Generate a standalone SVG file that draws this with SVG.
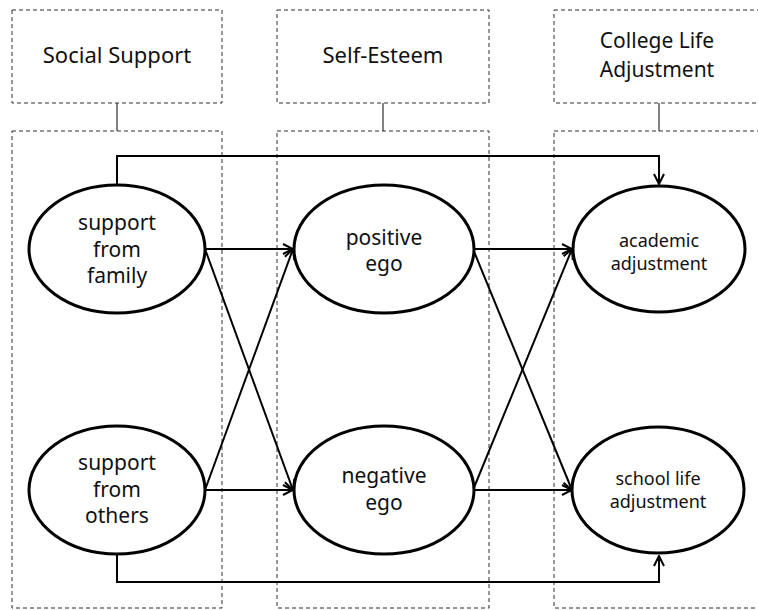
<svg xmlns="http://www.w3.org/2000/svg" width="758" height="610" viewBox="0 0 758 610">
  <style>
    .frame { fill: none; stroke: #2e2e2e; stroke-width: 1; stroke-dasharray: 4 3; }
    .tie { fill: none; stroke: #2e2e2e; stroke-width: 1.2; }
    .node { fill: #ffffff; stroke: #000000; stroke-width: 3; }
    .link { fill: none; stroke: #000000; stroke-width: 2; }
    .head { font-family: "Noto Sans", "Open Sans", sans-serif; font-size: 22px; fill: #111111; text-anchor: middle; }
    .head-2 { font-family: "Noto Sans", "Open Sans", sans-serif; font-size: 21px; fill: #111111; text-anchor: middle; }
    .lbl { font-family: "Noto Sans", "Open Sans", sans-serif; font-size: 21px; fill: #111111; text-anchor: middle; }
    .lbl-s { font-family: "Noto Sans", "Open Sans", sans-serif; font-size: 18px; fill: #111111; text-anchor: middle; }
  </style>
  <defs>
    <marker id="arrow" viewBox="0 0 12 12" refX="11" refY="6" markerWidth="12" markerHeight="12" markerUnits="userSpaceOnUse" orient="auto">
      <path d="M1,1 L11,6 L1,11" fill="none" stroke="#000000" stroke-width="2"/>
    </marker>
  </defs>
  <rect width="758" height="610" fill="#ffffff"/>

  <!-- column headers and frames -->
  <g id="col-social">
    <rect class="frame" x="12" y="10" width="210" height="93"/>
    <text class="head" x="117" y="63">Social Support</text>
    <line class="tie" x1="117" y1="103" x2="117" y2="131"/>
    <rect class="frame" x="12" y="131" width="210" height="477"/>
  </g>
  <g id="col-esteem">
    <rect class="frame" x="277" y="10" width="212" height="93"/>
    <text class="head" x="383" y="63">Self-Esteem</text>
    <line class="tie" x1="383" y1="103" x2="383" y2="131"/>
    <rect class="frame" x="277" y="131" width="212" height="477"/>
  </g>
  <g id="col-college">
    <rect class="frame" x="554" y="10" width="212" height="93"/>
    <text class="head-2" x="657" y="48">College Life</text>
    <text class="head-2" x="657" y="77">Adjustment</text>
    <line class="tie" x1="659" y1="103" x2="659" y2="131"/>
    <rect class="frame" x="554" y="131" width="212" height="477"/>
  </g>

  <!-- connectors -->
  <g id="connectors">
    <path class="link" d="M117,185 V156 H659 V184" marker-end="url(#arrow)"/>
    <path class="link" d="M117,555 V582 H659 V556" marker-end="url(#arrow)"/>
    <line class="link" x1="205" y1="249" x2="293" y2="249" marker-end="url(#arrow)"/>
    <line class="link" x1="205" y1="249" x2="293" y2="490" marker-end="url(#arrow)"/>
    <line class="link" x1="205" y1="490" x2="293" y2="249" marker-end="url(#arrow)"/>
    <line class="link" x1="205" y1="490" x2="293" y2="490" marker-end="url(#arrow)"/>
    <line class="link" x1="473" y1="249" x2="572" y2="249" marker-end="url(#arrow)"/>
    <line class="link" x1="473" y1="249" x2="572" y2="490" marker-end="url(#arrow)"/>
    <line class="link" x1="473" y1="490" x2="572" y2="249" marker-end="url(#arrow)"/>
    <line class="link" x1="473" y1="490" x2="572" y2="490" marker-end="url(#arrow)"/>
  </g>

  <!-- nodes -->
  <g id="family">
    <ellipse class="node" cx="117" cy="249" rx="88" ry="64"/>
    <text class="lbl" x="117" y="230">support</text>
    <text class="lbl" x="117" y="257">from</text>
    <text class="lbl" x="117" y="283">family</text>
  </g>
  <g id="others">
    <ellipse class="node" cx="117" cy="490" rx="88" ry="64"/>
    <text class="lbl" x="117" y="470">support</text>
    <text class="lbl" x="117" y="497">from</text>
    <text class="lbl" x="117" y="523">others</text>
  </g>
  <g id="positive">
    <ellipse class="node" cx="384" cy="249" rx="90" ry="64"/>
    <text class="lbl" x="384" y="245">positive</text>
    <text class="lbl" x="384" y="271">ego</text>
  </g>
  <g id="negative">
    <ellipse class="node" cx="384" cy="490" rx="90" ry="64"/>
    <text class="lbl" x="384" y="483">negative</text>
    <text class="lbl" x="384" y="510">ego</text>
  </g>
  <g id="academic">
    <ellipse class="node" cx="659" cy="249" rx="86" ry="63"/>
    <text class="lbl-s" x="659" y="247">academic</text>
    <text class="lbl-s" x="659" y="270">adjustment</text>
  </g>
  <g id="school">
    <ellipse class="node" cx="658" cy="490" rx="86" ry="63"/>
    <text class="lbl-s" x="658" y="485">school life</text>
    <text class="lbl-s" x="658" y="508">adjustment</text>
  </g>
</svg>
